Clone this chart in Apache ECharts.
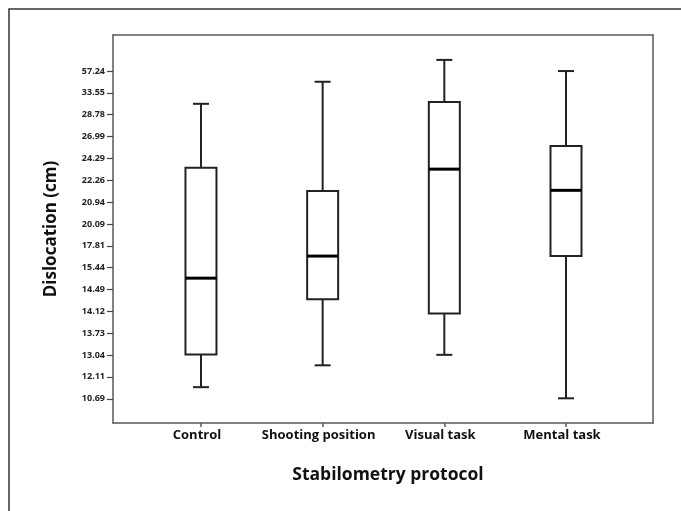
<!DOCTYPE html>
<html>
<head>
<meta charset="utf-8">
<script src="https://cdn.jsdelivr.net/npm/echarts@6/dist/echarts.min.js"></script>
<style>
html, body { margin: 0; padding: 0; background: #fff; }
#main { width: 681px; height: 511px; }
</style>
</head>
<body>
<div id="main"></div>
<script>
// categories on the x axis
var categories = ['Control', 'Shooting position', 'Visual task', 'Mental task'];
// tick labels of the y axis (evenly spaced, bottom to top)
var yTickLabels = ['10.69', '12.11', '13.04', '13.73', '14.12', '14.49', '15.44', '17.81',
	'20.09', '20.94', '22.26', '24.29', '26.99', '28.78', '33.55', '57.24'];
// box values, in tick-position units: [lower whisker, Q1, median, Q3, upper whisker]
var lowerWhisker = [0.53, 1.53, 2.01, 0.02];
var q1 = [2.02, 4.56, 3.90, 6.53];
var median = [5.52, 6.53, 10.51, 9.54];
var q3 = [10.57, 9.51, 13.58, 11.57];
var upperWhisker = [13.50, 14.51, 15.51, 15.00];

var boxData = [];
for (var i = 0; i < categories.length; i++) {
	boxData.push([i, lowerWhisker[i], q1[i], median[i], q3[i], upperWhisker[i]]);
}
var tickIdx = yTickLabels.map(function (s, i) { return i; });
var catIdx = categories.map(function (s, i) { return i; });

var fontFam = '"Open Sans", "Noto Sans", sans-serif';
var lineCol = '#222';
var frameCol = '#5a5a5a';

var chart = echarts.init(document.getElementById('main'));

function renderBox(params, api) {
	var x = api.value(0);
	var pLow = api.coord([x, api.value(1)]);
	var pQ1 = api.coord([x, api.value(2)]);
	var pMed = api.coord([x, api.value(3)]);
	var pQ3 = api.coord([x, api.value(4)]);
	var pHigh = api.coord([x, api.value(5)]);
	var bw = 31; // box width
	var cw = 16; // cap width
	var cx = pMed[0];
	var st = { stroke: lineCol, lineWidth: 2, fill: null };
	return {
		type: 'group',
		children: [
			{ type: 'line', shape: { x1: cx, y1: pHigh[1], x2: cx, y2: pQ3[1] }, style: st },
			{ type: 'line', shape: { x1: cx, y1: pQ1[1], x2: cx, y2: pLow[1] }, style: st },
			{ type: 'line', shape: { x1: cx - cw / 2, y1: pHigh[1], x2: cx + cw / 2, y2: pHigh[1] }, style: st },
			{ type: 'line', shape: { x1: cx - cw / 2, y1: pLow[1], x2: cx + cw / 2, y2: pLow[1] }, style: st },
			{ type: 'rect', shape: { x: cx - bw / 2, y: pQ3[1], width: bw, height: pQ1[1] - pQ3[1] },
				style: { stroke: lineCol, lineWidth: 2, fill: '#fff' } },
			{ type: 'line', shape: { x1: cx - bw / 2, y1: pMed[1], x2: cx + bw / 2, y2: pMed[1] },
				style: { stroke: '#000', lineWidth: 3 } }
		]
	};
}

var option = {
	backgroundColor: '#fff',
	animation: false,
	graphic: [{
		type: 'rect',
		shape: { x: 9, y: 9, width: 720, height: 560 },
		style: { fill: null, stroke: '#333', lineWidth: 1.5 },
		silent: true
	}],
	grid: { left: 113, right: 28, top: 35, bottom: 88 },
	xAxis: [{
		type: 'value',
		min: -0.723,
		max: 3.715,
		name: 'Stabilometry protocol',
		nameLocation: 'middle',
		nameGap: 43,
		nameTextStyle: { fontFamily: fontFam, fontWeight: 'bold', fontSize: 17.5, color: '#111', padding: [0, 0, 0, 10] },
		splitLine: { show: false },
		axisLine: { show: true, onZero: false, lineStyle: { color: frameCol, width: 1.5 } },
		axisTick: { show: true, customValues: catIdx, length: 4, lineStyle: { color: frameCol, width: 1.5 } },
		axisLabel: {
			customValues: catIdx,
			margin: 6,
			padding: [0, 8, 0, 0],
			fontFamily: fontFam, fontWeight: 'bold', fontSize: 13, color: '#111',
			formatter: function (v) { return categories[Math.round(v)]; }
		}
	}, {
		type: 'value', position: 'top', min: -0.723, max: 3.715,
		axisLine: { show: true, onZero: false, lineStyle: { color: frameCol, width: 1.5 } },
		axisTick: { show: false }, axisLabel: { show: false }, splitLine: { show: false }
	}],
	yAxis: [{
		type: 'value',
		min: -1.11,
		max: 16.65,
		name: 'Dislocation (cm)',
		nameLocation: 'middle',
		nameRotate: 90,
		nameGap: 53,
		nameTextStyle: { fontFamily: fontFam, fontWeight: 'bold', fontSize: 17, color: '#111' },
		splitLine: { show: false },
		axisLine: { show: true, onZero: false, lineStyle: { color: frameCol, width: 1.5 } },
		axisTick: { show: true, customValues: tickIdx, length: 6, lineStyle: { color: '#444', width: 1.2 } },
		axisLabel: {
			customValues: tickIdx,
			margin: 8,
			fontFamily: fontFam, fontWeight: 'bold', fontSize: 9, color: '#222',
			formatter: function (v) { return yTickLabels[Math.round(v)]; }
		}
	}, {
		type: 'value', position: 'right', min: -1.11, max: 16.65,
		axisLine: { show: true, onZero: false, lineStyle: { color: frameCol, width: 1.5 } },
		axisTick: { show: false }, axisLabel: { show: false }, splitLine: { show: false }
	}],
	series: [{
		name: 'Dislocation',
		type: 'custom',
		renderItem: renderBox,
		encode: { x: 0, y: [1, 2, 3, 4, 5] },
		data: boxData,
		z: 10
	}]
};
chart.setOption(option);
</script>
</body>
</html>
